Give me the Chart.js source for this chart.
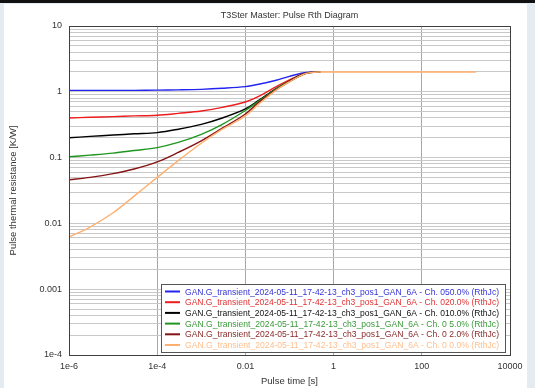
<!DOCTYPE html>
<html>
<head>
<meta charset="utf-8">
<script src="https://cdn.jsdelivr.net/npm/chart.js@4.4.1/dist/chart.umd.min.js"></script>
<style>
  html, body { margin: 0; padding: 0; background: #e4ebf1; }
  #wrap { position: absolute; left: 0; top: 0; width: 535px; height: 388px; }
</style>
</head>
<body>
<div id="wrap"><canvas id="rthChart" width="535" height="388"></canvas></div>
<script>
// pulse times [s]
const times = [1e-6, 3e-6, 1e-5, 3e-5, 1e-4, 3e-4, 1e-3, 3e-3, 1e-2, 2e-2, 5e-2, 0.1, 0.2, 0.3, 0.5];
const timesLong = [1, 10, 100, 1000, 1700];

// Rth values [K/W] for each duty cycle
const rth50 = [1.05, 1.05, 1.05, 1.05, 1.06, 1.07, 1.09, 1.13, 1.20, 1.30, 1.50, 1.72, 1.93, 1.99, 2.0];
const rth20 = [0.40, 0.41, 0.42, 0.43, 0.44, 0.47, 0.51, 0.58, 0.70, 0.85, 1.20, 1.52, 1.87, 1.97, 2.0];
const rth10 = [0.20, 0.21, 0.22, 0.23, 0.24, 0.27, 0.32, 0.40, 0.55, 0.74, 1.12, 1.46, 1.85, 1.97, 2.0];
const rth5  = [0.103, 0.109, 0.117, 0.128, 0.142, 0.17, 0.225, 0.32, 0.52, 0.72, 1.10, 1.44, 1.84, 1.96, 2.0];
const rth2  = [0.046, 0.050, 0.057, 0.067, 0.086, 0.12, 0.18, 0.28, 0.46, 0.69, 1.08, 1.43, 1.83, 1.96, 2.0];
const rth0  = [0.0062, 0.0088, 0.0145, 0.026, 0.050, 0.090, 0.165, 0.27, 0.43, 0.65, 1.06, 1.42, 1.83, 1.96, 2.0];
const rth0Long = [2.0, 2.0, 2.0, 2.0, 2.0];

const seriesNames = [
  "GAN.G_transient_2024-05-11_17-42-13_ch3_pos1_GAN_6A - Ch. 050.0% (RthJc)",
  "GAN.G_transient_2024-05-11_17-42-13_ch3_pos1_GAN_6A - Ch. 020.0% (RthJc)",
  "GAN.G_transient_2024-05-11_17-42-13_ch3_pos1_GAN_6A - Ch. 010.0% (RthJc)",
  "GAN.G_transient_2024-05-11_17-42-13_ch3_pos1_GAN_6A - Ch. 0 5.0% (RthJc)",
  "GAN.G_transient_2024-05-11_17-42-13_ch3_pos1_GAN_6A - Ch. 0 2.0% (RthJc)",
  "GAN.G_transient_2024-05-11_17-42-13_ch3_pos1_GAN_6A - Ch. 0 0.0% (RthJc)"
];
const lineColors = ['#2323f2', '#ee1c1c', '#000000', '#1f961f', '#861414', '#ffb070'];
const textColors = ['#3434d6', '#e23232', '#111111', '#3a9a3a', '#8a2a2a', '#ffbf8c'];

// axis ticks
const xTicks = [1e-6, 1e-4, 1e-2, 1, 100, 10000];
const xTickLabels = ['1e-6', '1e-4', '0.01', '1', '100', '10000'];
const yDecades = [1e-4, 1e-3, 1e-2, 1e-1, 1, 10];
const yTickLabels = ['1e-4', '0.001', '0.01', '0.1', '1', '10'];
const yMinor = [2, 3, 4, 5, 6, 7, 8, 9];

const FONT = '"Liberation Sans", Arial, sans-serif';

function pts(xs, ys) {
  return xs.map((x, i) => ({x: x, y: ys[i]}));
}

const allSeries = [rth50, rth20, rth10, rth5, rth2, rth0];
const datasets = allSeries.map((ys, i) => ({
  label: seriesNames[i],
  data: i === 5 ? pts(times.concat(timesLong), ys.concat(rth0Long)) : pts(times, ys),
  borderColor: lineColors[i],
  backgroundColor: lineColors[i],
  borderWidth: 1.4,
  pointRadius: 0,
  tension: 0.35,
  fill: false,
  order: i === 5 ? 0 : 6 - i
}));

const frame = {
  id: 'frame',
  beforeDraw(chart) {
    const c = chart.ctx;
    c.save();
    c.fillStyle = '#e4ebf1';
    c.fillRect(0, 0, 535, 388);
    c.fillStyle = '#ffffff';
    c.fillRect(4, 4, 523, 384);
    c.fillStyle = '#111111';
    c.fillRect(0, 0, 535, 3);
    c.restore();
  },
  afterDraw(chart) {
    const c = chart.ctx;
    const a = chart.chartArea;
    c.save();
    // plot border
    c.strokeStyle = '#404040';
    c.lineWidth = 1;
    c.strokeRect(Math.round(a.left) + 0.5, Math.round(a.top) + 0.5, Math.round(a.right - a.left), Math.round(a.bottom - a.top));

    // title + axis titles
    c.fillStyle = '#333333';
    c.font = '9px ' + FONT;
    c.textAlign = 'center';
    c.textBaseline = 'middle';
    c.fillText('T3Ster Master: Pulse Rth Diagram', (a.left + a.right) / 2, 16);
    c.font = '9.5px ' + FONT;
    c.fillText('Pulse time [s]', (a.left + a.right) / 2, 381);
    c.save();
    c.translate(13, (a.top + a.bottom) / 2);
    c.rotate(-Math.PI / 2);
    c.fillText('Pulse thermal resistance [K/W]', 0, 0);
    c.restore();

    // legend box
    const lx = 161, ly = 284, lw = 344, lh = 68;
    c.fillStyle = '#ffffff';
    c.fillRect(lx, ly, lw, lh);
    c.strokeStyle = '#555555';
    c.strokeRect(lx + 0.5, ly + 0.5, lw, lh);
    c.textAlign = 'left';
    c.font = '9.5px ' + FONT;
    chart.data.datasets.forEach((ds, i) => {
      const yy = 291.5 + i * 10.7;
      c.strokeStyle = ds.borderColor;
      c.lineWidth = 2;
      c.beginPath();
      c.moveTo(165, yy);
      c.lineTo(180, yy);
      c.stroke();
      c.fillStyle = textColors[i];
      c.fillText(ds.label, 185, yy + 0.5, 314);
    });
    c.restore();
  }
};

const config = {
  type: 'line',
  data: { datasets: datasets },
  options: {
    responsive: false,
    animation: false,
    layout: { padding: { left: 0, right: 25, top: 26, bottom: 0 } },
    plugins: {
      legend: { display: false },
      tooltip: { enabled: false }
    },
    scales: {
      x: {
        type: 'logarithmic',
        min: 1e-6,
        max: 10000,
        afterBuildTicks: (s) => { s.ticks = xTicks.map(v => ({value: v})); },
        afterFit: (s) => { s.height = 33; },
        ticks: {
          autoSkip: false,
          maxRotation: 0,
          padding: 6,
          color: '#333333',
          font: { family: FONT, size: 9 },
          callback: (v) => {
            const k = xTicks.indexOf(v);
            return k >= 0 ? xTickLabels[k] : '';
          }
        },
        grid: { color: '#a8a8a8', lineWidth: 1, drawTicks: false },
        border: { display: true, color: '#404040' }
      },
      y: {
        type: 'logarithmic',
        min: 1e-4,
        max: 10,
        afterBuildTicks: (s) => {
          const t = [];
          yDecades.forEach((d, k) => {
            t.push({value: d});
            if (k < yDecades.length - 1) yMinor.forEach(m => t.push({value: d * m}));
          });
          s.ticks = t;
        },
        afterFit: (s) => { s.width = 69; },
        ticks: {
          autoSkip: false,
          padding: 7,
          color: '#333333',
          font: { family: FONT, size: 9 },
          callback: (v) => {
            const k = yDecades.indexOf(v);
            return k >= 0 ? yTickLabels[k] : '';
          }
        },
        grid: { color: '#c8c8c8', lineWidth: 1, drawTicks: false },
        border: { display: true, color: '#404040' }
      }
    }
  },
  plugins: [frame]
};

var rthChart = new Chart(document.getElementById('rthChart'), config);
</script>
</body>
</html>
